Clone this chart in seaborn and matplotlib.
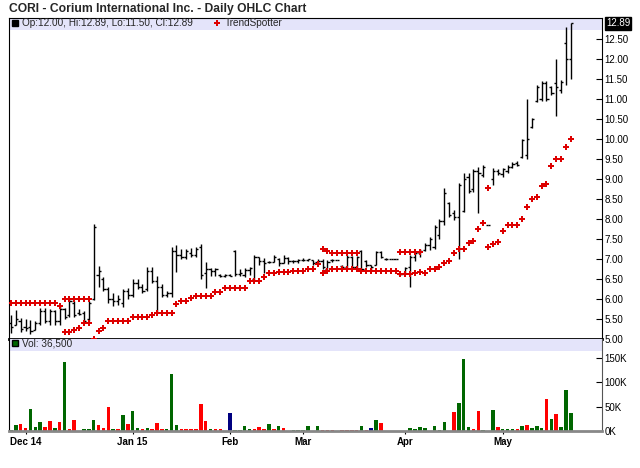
import numpy as np
import pandas as pd
import matplotlib
matplotlib.use('Agg')
import matplotlib.pyplot as plt
import matplotlib.transforms as mtransforms
import seaborn as sns
from matplotlib.lines import Line2D
from matplotlib.patches import Rectangle
from matplotlib.ticker import FuncFormatter

sns.set_theme(style='white')
plt.rcParams['font.family'] = ['Liberation Sans', 'DejaVu Sans']

# 数据 (one entry per trading day)
title = 'CORI - Corium International Inc. - Daily OHLC Chart'

opens = [5.40, 5.35, 5.45, 5.30, 5.30, 5.22, 5.40, 5.70, 5.45, 5.70,
         5.45, 5.75, 5.60, 5.90, 5.65, 5.65, 5.50, 6.00, 6.60, 6.50,
         6.25, 6.00, 5.95, 5.90, 6.20, 6.10, 6.40, 6.30, 6.25, 6.70,
         6.45, 6.30, 6.10, 6.15, 7.20, 7.10, 7.05, 7.15, 7.10, 7.30,
         6.65, 6.75, 6.70, 6.60, 6.58, 6.60, 7.20, 6.62, 6.60, 6.72,
         6.50, 7.05, 6.95, 6.92, 6.93, 7.00, 6.90, 7.02, 6.95, 6.95,
         6.98, 6.98, 6.98, 6.92, 6.95, 6.75, 6.98, 6.98, 6.82, 6.80,
         7.05, 6.80, 7.20, 6.95, 6.85, 6.85, 7.18, 7.00, 6.99, 6.99,
         6.62, 6.65, 6.80, 7.05, 7.15, 7.22, 7.35, 7.30, 7.60, 7.95,
         8.40, 8.15, 8.05, 8.20, 9.05, 8.75, 9.20, 9.10, 7.85, 9.00,
         9.20, 9.12, 9.20, 9.30, 9.40, 9.55, 9.60, 10.30, 10.95, 11.00,
         11.40, 11.30, 11.40, 11.22, 12.40, 12.00]
highs = [5.60, 5.73, 5.52, 5.50, 5.48, 5.45, 5.77, 5.77, 5.75, 5.72,
         5.85, 5.78, 6.00, 5.95, 5.75, 5.70, 5.95, 7.87, 6.82, 6.55,
         6.30, 6.15, 6.10, 6.25, 6.28, 6.50, 6.50, 6.38, 6.80, 6.80,
         6.58, 6.38, 6.20, 7.31, 7.35, 7.25, 7.25, 7.27, 7.30, 7.38,
         6.93, 6.78, 6.78, 6.62, 6.62, 6.62, 7.23, 6.74, 6.77, 6.80,
         7.10, 7.06, 7.02, 6.95, 7.10, 7.02, 7.10, 7.04, 6.98, 7.00,
         7.02, 7.00, 6.98, 7.00, 7.00, 6.97, 6.99, 6.98, 6.85, 7.10,
         7.08, 7.08, 7.23, 6.97, 6.85, 7.20, 7.20, 7.02, 6.99, 6.99,
         6.63, 6.80, 7.10, 7.18, 7.25, 7.40, 7.56, 7.85, 8.00, 8.77,
         8.43, 8.22, 8.89, 9.14, 9.14, 9.24, 9.31, 9.35, 7.85, 9.27,
         9.25, 9.27, 9.35, 9.42, 9.45, 10.00, 11.00, 10.52, 11.35, 11.45,
         11.45, 11.33, 12.00, 11.48, 12.80, 12.89]
lows = [5.14, 5.35, 5.18, 5.20, 5.12, 5.22, 5.35, 5.40, 5.35, 5.35,
        5.35, 5.50, 5.55, 5.55, 5.60, 5.40, 5.45, 5.98, 6.30, 6.20,
        5.90, 5.82, 5.85, 5.80, 6.00, 6.05, 6.25, 6.15, 6.20, 6.40,
        5.68, 6.05, 6.05, 6.05, 6.68, 7.00, 7.00, 7.05, 7.05, 6.50,
        6.28, 6.58, 6.58, 6.55, 6.55, 6.57, 6.58, 6.58, 6.56, 6.60,
        6.48, 6.85, 6.66, 6.90, 6.93, 6.82, 6.90, 6.88, 6.90, 6.90,
        6.95, 6.96, 6.85, 6.90, 6.75, 6.72, 6.93, 6.98, 6.75, 6.78,
        6.75, 6.75, 6.70, 6.80, 6.72, 6.85, 7.02, 6.98, 6.99, 6.99,
        6.60, 6.63, 6.30, 6.95, 7.05, 7.20, 7.23, 7.25, 7.50, 7.85,
        8.06, 7.98, 7.00, 8.18, 8.64, 8.68, 8.14, 9.06, 7.85, 8.85,
        9.10, 9.05, 9.14, 9.28, 9.32, 9.53, 9.50, 10.28, 10.92, 10.95,
        10.95, 11.10, 10.58, 11.15, 11.35, 11.50]
closes = [5.30, 5.50, 5.25, 5.28, 5.20, 5.40, 5.70, 5.45, 5.70, 5.45,
          5.75, 5.55, 5.95, 5.60, 5.62, 5.45, 5.90, 7.80, 6.70, 6.25,
          6.00, 5.95, 6.00, 6.20, 6.10, 6.40, 6.30, 6.20, 6.70, 6.45,
          6.30, 6.10, 6.15, 7.20, 7.10, 7.05, 7.20, 7.10, 7.25, 6.60,
          6.75, 6.70, 6.75, 6.58, 6.60, 6.58, 6.62, 6.65, 6.72, 6.78,
          7.05, 6.95, 6.90, 6.93, 7.05, 6.90, 7.02, 6.95, 6.95, 6.98,
          6.98, 6.99, 6.90, 6.95, 6.80, 6.93, 6.98, 6.98, 6.80, 7.05,
          6.80, 7.05, 6.75, 6.85, 6.80, 7.18, 7.05, 7.00, 6.99, 6.99,
          6.62, 6.78, 7.05, 7.15, 7.20, 7.35, 7.50, 7.80, 7.95, 8.65,
          8.10, 8.05, 8.85, 9.00, 8.70, 9.20, 9.15, 9.30, 7.85, 9.20,
          9.15, 9.25, 9.30, 9.38, 9.35, 9.98, 10.00, 10.50, 11.30, 11.40,
          11.00, 11.15, 11.30, 11.42, 12.00, 12.89]

nan = np.nan
# TrendSpotter: main row + the short second row seen at a few places
ts_main = [5.89] * 10 + [5.83, 5.17, 5.17, 5.22, 5.27, 5.41, 5.41, 5.00, 5.20, 5.27,
           5.45, 5.45, 5.45, 5.45, 5.45, 5.56, 5.56, 5.56, 5.56, 5.60,
           5.66, 5.66, 5.66, 5.66, 5.87, 5.95, 5.95, 6.02, 6.07, 6.07,
           6.07, 6.07, 6.18, 6.18, 6.28, 6.28, 6.28, 6.28, 6.28, 6.45,
           6.45, 6.45, 6.56, 6.64, 6.64, 6.67, 6.67, 6.67, 6.70, 6.70,
           6.70, 6.75, 6.75, 6.87, 6.64, 6.70, 6.75, 6.75, 6.75, 6.75,
           6.75, 6.75, 6.70, 6.70, 6.70, 6.70, 6.70, 6.70, 6.70, 6.70,
           6.62, 6.62, 6.62, 6.66, 6.67, 6.66, 6.76, 6.76, 6.80, 6.90,
           6.96, 7.16, 7.24, 7.24, 7.39, 7.45, 7.74, 7.91, 7.31, 7.37,
           7.42, 7.71, 7.86, 7.86, 7.86, 7.99, 8.31, 8.50, 8.56, 8.82,
           8.87, 9.33, 9.50, 9.50, 9.79, 9.99]
ts_second = ([nan] * 11 + [6.00] * 6 + [nan] * 47 + [7.25, 7.20] + [7.14] * 6
             + [nan] * 8 + [7.17] * 5 + [nan] * 13 + [8.78] + [nan] * 17)

volumes = [3000, 12300, 14400, 5500, 45000, 9000, 18000, 9000, 21000, 7000,
           18000, 141000, 3400, 22000, 0, 4800, 4000, 22000, 12300, 7000,
           50000, 4800, 3400, 33000, 13700, 41000, 7000, 3400, 5500, 4000,
           15700, 3400, 4800, 117000, 12300, 3400, 3400, 4000, 3400, 55000,
           20000, 3400, 4800, 4800, 0, 38000, 2700, 2700, 10000, 4800,
           4800, 8000, 3400, 13700, 3400, 10000, 7000, 0, 1400, 1400,
           1400, 10000, 0, 10000, 2700, 2700, 2700, 0, 2700, 2700,
           2700, 2700, 10000, 2700, 6000, 22000, 16400, 0, 0, 0,
           0, 0, 6000, 3400, 8000, 6000, 0, 10000, 2700, 18000,
           0, 39000, 58000, 148000, 8000, 4800, 42000, 2700, 0, 44000,
           8000, 4000, 4800, 4800, 4800, 10000, 12300, 7000, 10000, 7000,
           65000, 25000, 35000, 8000, 85000, 36500]
vol_dir = ['up', 'up', 'down', 'down', 'up', 'up', 'up', 'down', 'down', 'up',
           'down', 'up', 'down', 'down', 'up', 'up', 'up', 'up', 'down', 'down',
           'down', 'up', 'down', 'up', 'down', 'up', 'up', 'down', 'up', 'down',
           'down', 'down', 'up', 'up', 'up', 'down', 'down', 'down', 'down', 'down',
           'down', 'up', 'down', 'down', 'up', 'flat', 'up', 'up', 'up', 'up',
           'down', 'down', 'down', 'up', 'down', 'up', 'down', 'up', 'up', 'up',
           'up', 'up', 'up', 'up', 'down', 'down', 'down', 'down', 'down', 'down',
           'down', 'down', 'up', 'down', 'flat', 'up', 'down', 'up', 'up', 'up',
           'up', 'up', 'up', 'up', 'up', 'up', 'up', 'up', 'up', 'up',
           'up', 'down', 'up', 'up', 'up', 'down', 'down', 'up', 'up', 'up',
           'down', 'up', 'up', 'up', 'down', 'up', 'down', 'up', 'up', 'up',
           'down', 'up', 'down', 'up', 'up', 'up']

tick_idx = [3, 25, 45, 60, 81, 101]
tick_labels = ['Dec 14', 'Jan 15', 'Feb', 'Mar', 'Apr', 'May']

RED = '#dd0000'
VOL_COLORS = {'up': '#006600', 'down': '#ff0000', 'flat': '#000080'}
BAND = '#e4e4fa'

N = len(closes)
idx = np.arange(N)
opens, highs, lows, closes = map(np.array, (opens, highs, lows, closes))

W, H = 640, 468
def box(l, t, r, b):
    return [l / W, 1 - b / H, (r - l) / W, (b - t) / H]

fig = plt.figure(figsize=(6.4, 4.68), dpi=100)
ax = fig.add_axes(box(9, 18, 602, 339))
axv = fig.add_axes(box(9, 339, 602, 431))

# OHLC bars
ax.vlines(idx, lows, highs, color='black', lw=1.0, zorder=2)
ax.hlines(opens, idx - 0.45, idx, color='black', lw=1.0, zorder=2)
ax.hlines(closes, idx, idx + 0.45, color='black', lw=1.0, zorder=2)

# TrendSpotter
sns.scatterplot(x=idx, y=ts_main, ax=ax, marker='P', s=13, color=RED, linewidth=0, zorder=3)
sns.scatterplot(x=idx, y=ts_second, ax=ax, marker='P', s=13, color=RED, linewidth=0, zorder=3)

ax.add_patch(Rectangle((0, 1 - 12 / 321), 1, 12 / 321, transform=ax.transAxes,
                       color=BAND, zorder=0.5, lw=0))
ax.set_xlim(-0.4, 121.4)
ax.set_ylim(5.0, 13.025)
ax.yaxis.tick_right()
ax.set_yticks(np.arange(5.0, 12.51, 0.5))
ax.yaxis.set_major_formatter(FuncFormatter(lambda v, p: f'{v:.2f}'))
ax.tick_params(axis='y', direction='in', length=4, width=0.8, pad=2, labelsize=7,
               colors='black', right=True, left=False)
ax.tick_params(axis='x', bottom=False, labelbottom=False)
ax.set_xlabel('')
ax.set_ylabel('')
for s in ax.spines.values():
    s.set_color('black')
    s.set_linewidth(0.8)
ax.spines['bottom'].set_linewidth(2)

handles = [Line2D([], [], marker='s', ls='', color='black', ms=5),
           Line2D([], [], marker='P', ls='', color=RED, ms=4, mew=0)]
labels = [f'Op:{opens[-1]:.2f}, Hi:{highs[-1]:.2f}, Lo:{lows[-1]:.2f}, Cl:{closes[-1]:.2f}',
          'TrendSpotter']
ax.legend(handles, labels, loc='upper left', bbox_to_anchor=(0, 1.005), ncol=2,
          frameon=False, fontsize=7.2, handlelength=0.7, handletextpad=0.4,
          columnspacing=2.1, borderaxespad=0.1, borderpad=0.1)

# last price box
tr = mtransforms.blended_transform_factory(ax.transAxes, ax.transData)
ax.text(1 + 4 / 593, closes[-1], f'{closes[-1]:.2f}', transform=tr, color='white',
        fontsize=7, ha='left', va='center',
        bbox=dict(boxstyle='square,pad=0.12', fc='black', ec='black'))

# volume
vol_df = pd.DataFrame({'i': idx, 'v': volumes, 'dir': vol_dir})
sns.barplot(data=vol_df, x='i', y='v', hue='dir', palette=VOL_COLORS,
            width=0.72, dodge=False, legend=False, errorbar=None, saturation=1,
            linewidth=0, ax=axv)
axv.add_patch(Rectangle((0, 1 - 12 / 92), 1, 12 / 92, transform=axv.transAxes,
                        color=BAND, zorder=0.5, lw=0))
axv.set_ylim(0, 189000)
axv.set_xlim(-0.4, 121.4)
axv.yaxis.tick_right()
axv.set_yticks([0, 50000, 100000, 150000])
axv.yaxis.set_major_formatter(FuncFormatter(lambda v, p: f'{int(v / 1000)}K'))
axv.tick_params(axis='y', direction='in', length=4, width=0.8, pad=2, labelsize=7,
                colors='black', right=True, left=False)
axv.set_xticks(tick_idx)
axv.set_xticklabels(tick_labels, fontweight='bold')
axv.tick_params(axis='x', direction='out', length=2, width=0.8, pad=2, labelsize=7,
                colors='black', bottom=True)
axv.set_xlabel('')
axv.set_ylabel('')
axv.spines['top'].set_visible(False)
axv.spines['left'].set_color('black')
axv.spines['left'].set_linewidth(0.8)
axv.spines['right'].set_color('#555555')
axv.spines['right'].set_linewidth(0.8)
axv.spines['bottom'].set_color('#888888')
axv.spines['bottom'].set_linewidth(2)

axv.legend([Line2D([], [], marker='s', ls='', mfc=VOL_COLORS['up'], mec='black', ms=5)],
           [f'Vol: {volumes[-1]:,}'], loc='upper left', bbox_to_anchor=(0, 1.03),
           frameon=False, fontsize=7.2, handlelength=0.7, handletextpad=0.4,
           borderaxespad=0.1, borderpad=0.1)

fig.text(9 / W, 1 - 9 / H, title, fontsize=8.7, fontweight='bold', ha='left', va='center')

fig.savefig('out.png', dpi=100)
